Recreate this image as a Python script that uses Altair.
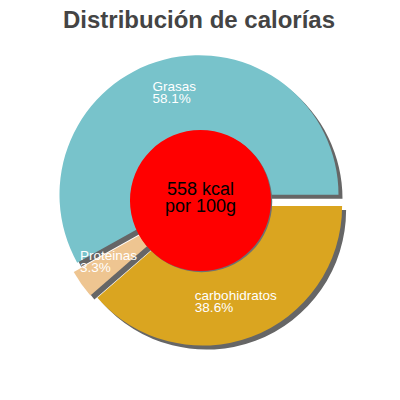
import altair as alt
import pandas as pd

# ---- data ----
names = ["Grasas", "Proteinas", "carbohidratos"]
percents = [58.1, 3.3, 38.6]
colors = ["#78C3CB", "#EEC591", "#DAA520"]
kcal = [558]
per = ["por 100g"]

df = pd.DataFrame({"idx": list(range(len(names))), "name": names, "pct": percents})
center_df = pd.DataFrame({"kcal": kcal, "per": per})

# ---- layout ----
PAD_TOP = 40
W, H = 384, 384 - PAD_TOP
CX, CY = 200.5 - 8, 200.5 - 8 - PAD_TOP
R = 139.5
EXP = 6
SH = 4
LABEL_R = 110
FONT = "Liberation Sans"

base = (
    alt.Chart(df)
    .transform_window(cum="sum(pct)", sort=[alt.SortField("idx")], frame=[None, 0])
    .transform_calculate(f0="(datum.cum - datum.pct) / 100", f1="datum.cum / 100")
    .transform_calculate(
        mid="PI * (datum.f0 + datum.f1)",
        t0="2.5 * PI - 2 * PI * datum.f0",
        t1="2.5 * PI - 2 * PI * datum.f1",
    )
    .transform_calculate(
        cx=f"{CX} + {EXP} * cos(datum.mid)",
        cy=f"{CY} - {EXP} * sin(datum.mid)",
        lx=f"{CX} + {LABEL_R} * cos(datum.mid) - 3.4 * length(datum.name)",
        ly=f"{CY - 7.5} - {LABEL_R} * sin(datum.mid)",
        label="[datum.name, format(datum.pct, '.1f') + '%']",
    )
    .transform_calculate(sx=f"datum.cx + {SH}", sy=f"datum.cy + {SH}")
)

theta_enc = alt.Theta("t0:Q", scale=None, stack=None)

shadow = base.mark_arc(outerRadius=R, color="#666666").encode(
    theta=theta_enc,
    theta2="t1:Q",
    x=alt.X("sx:Q", scale=None),
    y=alt.Y("sy:Q", scale=None),
)

slices = base.mark_arc(outerRadius=R).encode(
    theta=theta_enc,
    theta2="t1:Q",
    x=alt.X("cx:Q", scale=None),
    y=alt.Y("cy:Q", scale=None),
    color=alt.Color("name:N", scale=alt.Scale(domain=names, range=colors), legend=None),
)

labels = base.mark_text(
    align="left", baseline="middle", fontSize=13.5, lineHeight=12, color="white", font=FONT
).encode(
    x=alt.X("lx:Q", scale=None),
    y=alt.Y("ly:Q", scale=None),
    text="label:N",
)

cbase = alt.Chart(center_df).transform_calculate(
    txt="[datum.kcal + ' kcal', datum.per]"
)

circle_shadow = cbase.mark_arc(outerRadius=70.5, color="#707070").encode(
    theta=alt.value(0), theta2=alt.value(6.2832),
    x=alt.value(CX + 1.2), y=alt.value(CY + 1.2),
)
circle = cbase.mark_arc(outerRadius=70.5, color="#FF0000").encode(
    theta=alt.value(0), theta2=alt.value(6.2832),
    x=alt.value(CX), y=alt.value(CY),
)
center_text = cbase.mark_text(
    align="center", baseline="middle", fontSize=18, lineHeight=17, color="black", font=FONT
).encode(
    x=alt.value(CX), y=alt.value(CY - 11), text="txt:N"
)

chart = (
    alt.layer(shadow, slices, labels, circle_shadow, circle, center_text)
    .properties(
        width=W,
        height=H,
        padding={"left": 0, "top": PAD_TOP, "right": 0, "bottom": 0},
        autosize=alt.AutoSizeParams(type="none"),
        title=alt.Title(
            "Distribución de calorías",
            font=FONT,
            fontSize=24,
            fontWeight="bold",
            color="#444444",
            anchor="middle",
            offset=15,
            dx=-1,
        ),
    )
    .configure_view(stroke=None)
)

chart.save("out.html", embed_options={"renderer": "svg", "actions": False})
